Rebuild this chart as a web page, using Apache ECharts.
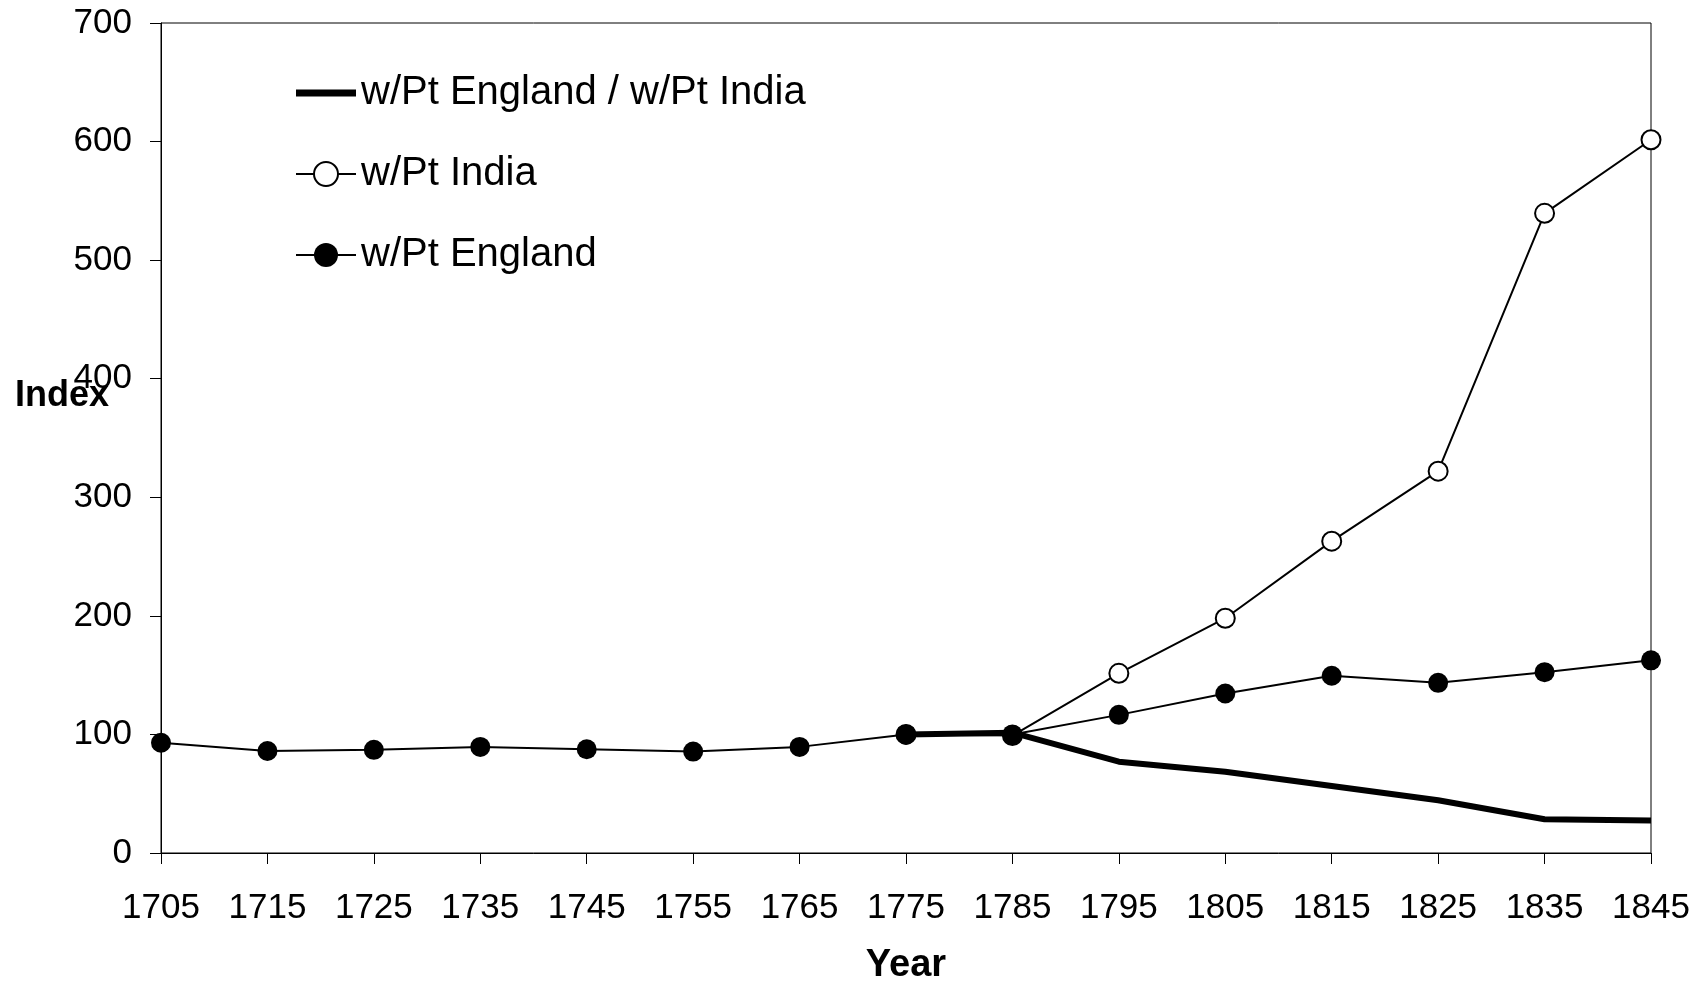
<!DOCTYPE html>
<html>
<head>
<meta charset="utf-8">
<title>Index</title>
<script src="https://cdn.jsdelivr.net/npm/echarts@6/dist/echarts.min.js"></script>
<style>
  html, body { margin: 0; padding: 0; background: #fff; }
  #main { width: 1700px; height: 982px; }
</style>
</head>
<body>
<div id="main"></div>
<script type="text/javascript">
    // years on the x axis
    var years = ['1705', '1715', '1725', '1735', '1745', '1755', '1765', '1775', '1785',
                 '1795', '1805', '1815', '1825', '1835', '1845'];
    // w/Pt England
    var england = [93, 86, 87, 89.5, 87.5, 85.5, 89.5, 100, 100, 116.5, 134.5, 149.5, 143.5, 152.5, 162.5];
    // w/Pt India (only from 1775)
    var india = [null, null, null, null, null, null, null, 100, 99, 151.5, 198, 263, 322, 539.5, 601.5];
    // ratio England / India
    var ratio = [null, null, null, null, null, null, null, 100, 101.5, 77, 68.5, 56.5, 44.5, 28.5, 27.5];

    var font = 'Liberation Sans, Arial, sans-serif';
    var myChart = echarts.init(document.getElementById('main'));

    var option = {
        backgroundColor: '#fff',
        animation: false,
        textStyle: { fontFamily: font },
        grid: {
            left: 161, right: 49, top: 23, bottom: 129,
            outerBoundsMode: 'none',
            containLabel: false,
            show: true, borderColor: '#000', borderWidth: 1
        },
        legend: {
            orient: 'vertical',
            left: 295, top: 73,
            padding: 0,
            itemGap: 41,
            itemWidth: 60,
            itemHeight: 30,
            data: [
                {
                    name: 'w/Pt England / w/Pt India',
                    // thick bar, padded to full icon height so it is not stretched
                    icon: 'path://M0,0L0,0M0,11.5L60,11.5L60,18.5L0,18.5ZM60,30L60,30',
                    itemStyle: { color: '#000', borderWidth: 0 }
                },
                { name: 'w/Pt India', lineStyle: { width: 2 } },
                { name: 'w/Pt England', lineStyle: { width: 2 } }
            ],
            textStyle: { fontFamily: font, fontSize: 40, color: '#000' }
        },
        graphic: [{
            type: 'text',
            left: 15,
            top: 378,
            style: { text: 'Index', font: 'bold 36px ' + font, fill: '#000' }
        }],
        xAxis: {
            type: 'category',
            data: years,
            boundaryGap: false,
            name: 'Year',
            nameLocation: 'middle',
            nameGap: 94,
            nameTextStyle: { fontFamily: font, fontSize: 38, fontWeight: 'bold', color: '#000' },
            axisLine: { lineStyle: { color: '#000', width: 1 } },
            axisTick: { show: true, length: 11, lineStyle: { color: '#000' } },
            axisLabel: { interval: 0, margin: 38, fontSize: 35, color: '#000', fontFamily: font },
            splitLine: { show: false }
        },
        yAxis: {
            type: 'value',
            min: 0, max: 700, interval: 100,
            axisLine: { show: true, lineStyle: { color: '#000', width: 1 } },
            axisTick: { show: true, length: 11, lineStyle: { color: '#000' } },
            axisLabel: { margin: 29, fontSize: 35, color: '#000', fontFamily: font },
            splitLine: { show: false }
        },
        series: [
            {
                name: 'w/Pt India',
                type: 'line',
                data: india,
                symbol: 'circle',
                symbolSize: 19,
                showAllSymbol: true,
                lineStyle: { color: '#000', width: 2 },
                itemStyle: { color: '#fff', borderColor: '#000', borderWidth: 2 }
            },
            {
                name: 'w/Pt England / w/Pt India',
                type: 'line',
                data: ratio,
                symbol: 'none',
                lineStyle: { color: '#000', width: 6 },
                itemStyle: { color: '#000' }
            },
            {
                name: 'w/Pt England',
                type: 'line',
                data: england,
                symbol: 'circle',
                symbolSize: 20,
                showAllSymbol: true,
                lineStyle: { color: '#000', width: 2 },
                itemStyle: { color: '#000', borderColor: '#000', borderWidth: 0 }
            }
        ]
    };
    myChart.setOption(option);
</script>
</body>
</html>
